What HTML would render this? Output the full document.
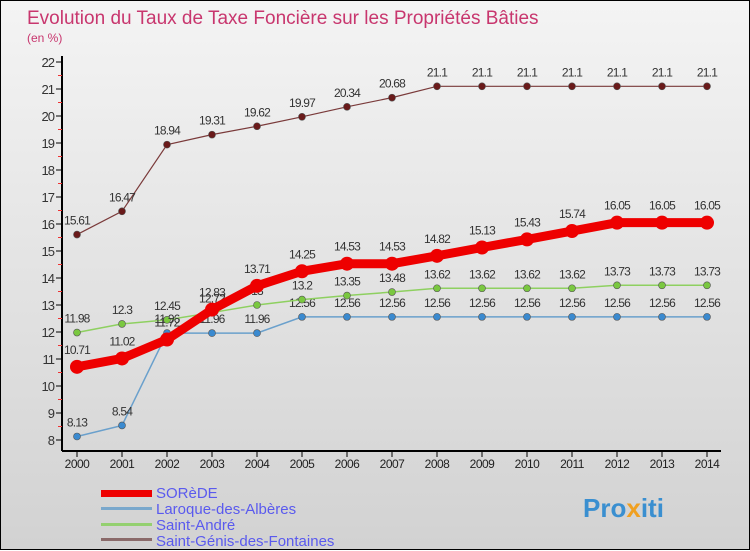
<!DOCTYPE html>
<html><head><meta charset="utf-8"><style>
body{margin:0;width:750px;height:550px;overflow:hidden;font-family:"Liberation Sans",sans-serif}
#c{position:relative;width:748px;height:548px;border:1px solid #000;background:linear-gradient(#f4f4f4,#d2d2d2)}
svg{position:absolute;left:0;top:0}
</style></head><body>
<div id="c">
<svg id="s" width="750" height="550">
<text x="26" y="23" font-size="19" fill="#c8366e">Evolution du Taux de Taxe Foncière sur les Propriétés Bâties</text>
<text x="26" y="41" font-size="12" fill="#c8366e">(en %)</text>
<line x1="61" y1="55" x2="61" y2="450" stroke="#000" stroke-width="2"/>
<line x1="61" y1="450" x2="720" y2="450" stroke="#000" stroke-width="2"/>
<g id="g"></g>
<g font-size="15" fill="#5a5aee">
<rect x="100" y="489" width="51" height="7" fill="#e00"/>
<text x="155" y="497">SORèDE</text>
<rect x="100" y="506" width="51" height="3" fill="#7aa8cc"/>
<text x="155" y="513">Laroque-des-Albères</text>
<rect x="100" y="522" width="51" height="3" fill="#94d070"/>
<text x="155" y="529">Saint-André</text>
<rect x="100" y="537" width="51" height="3" fill="#8a6a6a"/>
<text x="155" y="545">Saint-Génis-des-Fontaines</text>
</g>
<text x="582" y="516" font-size="26" font-weight="bold" fill="#3a8fd0">Pro<tspan fill="#f0a020">x</tspan>iti</text>
</svg></div>
<script>
const years=[2000,2001,2002,2003,2004,2005,2006,2007,2008,2009,2010,2011,2012,2013,2014];
const yTicks=[8,9,10,11,12,13,14,15,16,17,18,19,20,21,22];
const sorede=[10.71,11.02,11.72,12.83,13.71,14.25,14.53,14.53,14.82,15.13,15.43,15.74,16.05,16.05,16.05];
const laroque=[8.13,8.54,11.96,11.96,11.96,12.56,12.56,12.56,12.56,12.56,12.56,12.56,12.56,12.56,12.56];
const andre=[11.98,12.3,12.45,12.72,13,13.2,13.35,13.48,13.62,13.62,13.62,13.62,13.73,13.73,13.73];
const genis=[15.61,16.47,18.94,19.31,19.62,19.97,20.34,20.68,21.1,21.1,21.1,21.1,21.1,21.1,21.1];
const X=i=>76+i*45, Y=v=>61+(22-v)*27;
const g=document.getElementById('g'),NS='http://www.w3.org/2000/svg';
function mk(t,a){const e=document.createElementNS(NS,t);for(const k in a)e.setAttribute(k,a[k]);g.appendChild(e);return e;}
yTicks.forEach(v=>{
 const t=mk('line',{x1:55,x2:61,y1:Y(v),y2:Y(v),stroke:'#000'});
 
 
 if(v<22){const m=mk('line',{x1:57,x2:61,y1:Y(v+0.5),y2:Y(v+0.5),stroke:'#e33'});
 
 }
 const l=mk('text',{x:53,y:Y(v)+5,'font-size':13,'text-anchor':'end',fill:'#333','letter-spacing':'-1'});
 l.textContent=v;
 
 
});
years.forEach((y,i)=>{
 const t=mk('line',{x1:X(i),x2:X(i),y1:450,y2:456,stroke:'#000'});
 
 
 const l=mk('text',{x:X(i),y:467,'font-size':12,'text-anchor':'middle',fill:'#222','letter-spacing':'-0.5'});
 l.textContent=y;
 
 
});
function series(vals,color,dot,w,r,name,labDy){
 const p=mk('polyline',{points:vals.map((v,i)=>X(i)+','+Y(v)).join(' '),fill:'none',stroke:color,'stroke-width':w});
 
 
 vals.forEach((v,i)=>{
  const c=mk('circle',{cx:X(i),cy:Y(v),r:r,fill:dot,stroke:'#555','stroke-width':r>5?0:0.6});
  
  
  const t=mk('text',{x:X(i),y:Y(v)+labDy,'font-size':12,'text-anchor':'middle',fill:'#333','letter-spacing':'-0.8'});
  t.textContent=v;
  
  
 });
}
series(genis,'#7a3a3a','#6a1a1a',1.2,3.5,'saint-genis',-10);
series(laroque,'#6aa0cc','#3a8ad0',1.5,3.5,'laroque',-10);
series(andre,'#8ed060','#7ac840',1.5,3.5,'saint-andre',-10);
series(sorede,'#ee0000','#ee0000',9,7,'sorede',-13);
</script>
</body></html>
